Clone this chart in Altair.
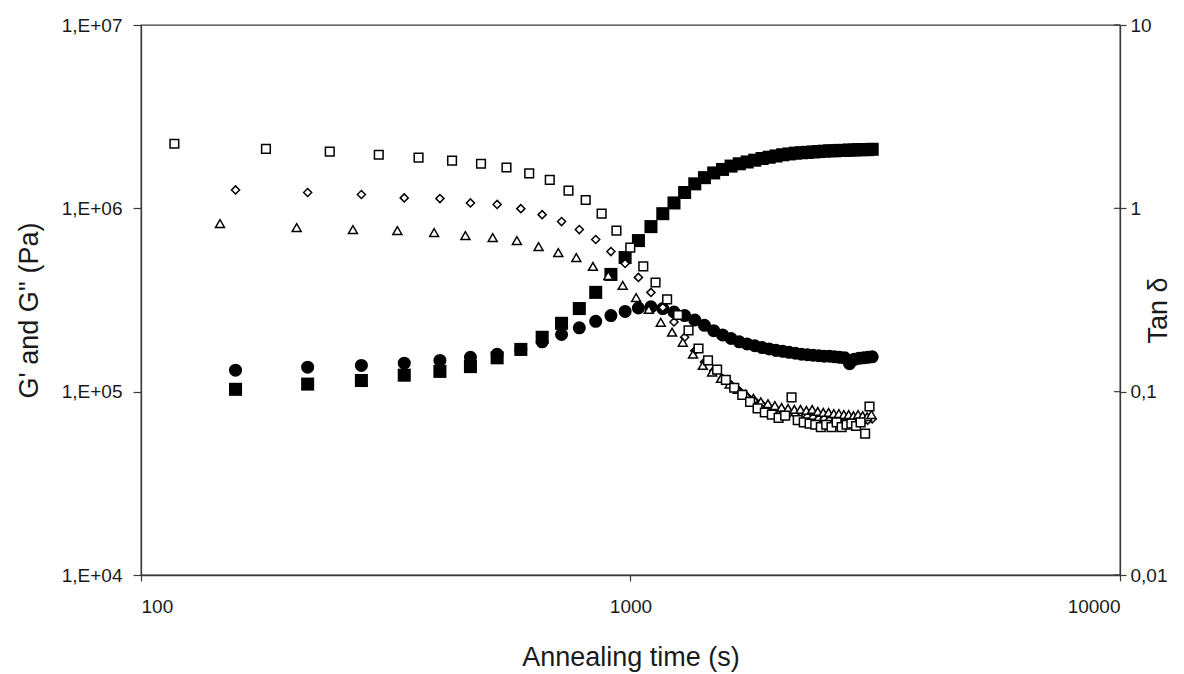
import altair as alt
import pandas as pd

# ---------------- data ----------------
# G' and G'' (left axis, Pa) and the diamond tan delta series share these times (s)
t_g = [156, 219, 282, 345, 408, 471, 534, 597, 660, 723,
       786, 849, 912, 975, 1038, 1101, 1164, 1227, 1290, 1353,
       1416, 1479, 1542, 1605, 1668, 1731, 1794, 1857, 1920, 1983,
       2046, 2109, 2172, 2235, 2298, 2361, 2424, 2487, 2550, 2613,
       2676, 2739, 2802, 2865, 2928, 2991, 3054, 3117]

g_storage = [1.03e5, 1.10e5, 1.15e5, 1.23e5, 1.29e5, 1.37e5, 1.53e5, 1.70e5, 1.98e5, 2.36e5,
             2.84e5, 3.48e5, 4.36e5, 5.39e5, 6.67e5, 7.95e5, 9.35e5, 1.07e6, 1.22e6, 1.36e6,
             1.47e6, 1.56e6, 1.63e6, 1.70e6, 1.75e6, 1.79e6, 1.83e6, 1.87e6, 1.90e6, 1.93e6,
             1.96e6, 1.98e6, 2.00e6, 2.01e6, 2.02e6, 2.03e6, 2.04e6, 2.05e6, 2.06e6, 2.06e6,
             2.07e6, 2.07e6, 2.08e6, 2.08e6, 2.09e6, 2.09e6, 2.09e6, 2.10e6]

g_loss = [1.31e5, 1.36e5, 1.39e5, 1.43e5, 1.48e5, 1.54e5, 1.60e5, 1.70e5, 1.87e5, 2.05e5,
          2.23e5, 2.42e5, 2.60e5, 2.74e5, 2.86e5, 2.90e5, 2.84e5, 2.72e5, 2.60e5, 2.46e5,
          2.30e5, 2.15e5, 2.04e5, 1.95e5, 1.87e5, 1.82e5, 1.78e5, 1.74e5, 1.71e5, 1.68e5,
          1.66e5, 1.64e5, 1.62e5, 1.60e5, 1.59e5, 1.58e5, 1.57e5, 1.56e5, 1.56e5, 1.55e5,
          1.54e5, 1.53e5, 1.42e5, 1.50e5, 1.52e5, 1.53e5, 1.54e5, 1.55e5]

tan_diamond = [1.26, 1.22, 1.19, 1.14, 1.13, 1.07, 1.05, 0.996, 0.924, 0.847,
               0.766, 0.676, 0.581, 0.500, 0.420, 0.348, 0.288, 0.240, 0.198, 0.167,
               0.145, 0.130, 0.118, 0.109, 0.101, 0.094, 0.089, 0.085, 0.082, 0.080,
               0.078, 0.076, 0.075, 0.074, 0.073, 0.072, 0.071, 0.071, 0.070, 0.069,
               0.069, 0.068, 0.068, 0.068, 0.069, 0.069, 0.070, 0.071]

t_triangle = [145, 208, 271, 334, 397, 460, 523, 586, 649, 712,
              775, 838, 901, 964, 1027, 1090, 1153, 1216, 1279, 1342,
              1405, 1468, 1531, 1594, 1657, 1720, 1783, 1846, 1909, 1972,
              2035, 2098, 2161, 2224, 2287, 2350, 2413, 2476, 2539, 2602,
              2665, 2728, 2791, 2854, 2917, 2980, 3043, 3106]

tan_triangle = [0.826, 0.785, 0.766, 0.756, 0.738, 0.710, 0.693, 0.667, 0.619, 0.574,
                0.539, 0.482, 0.430, 0.380, 0.326, 0.281, 0.239, 0.211, 0.186, 0.160,
                0.139, 0.128, 0.118, 0.110, 0.103, 0.097, 0.092, 0.088, 0.086, 0.084,
                0.082, 0.081, 0.080, 0.080, 0.079, 0.080, 0.078, 0.077, 0.077, 0.076,
                0.076, 0.075, 0.075, 0.074, 0.075, 0.074, 0.073, 0.075]

t_square = [117, 180, 243, 306, 369, 432, 495, 558, 621, 684,
            747, 810, 873, 936, 999, 1062, 1125, 1188, 1251, 1314,
            1377, 1440, 1503, 1566, 1629, 1692, 1755, 1818, 1881, 1944,
            2007, 2070, 2133, 2196, 2259, 2322, 2385, 2448, 2511, 2574,
            2637, 2700, 2763, 2826, 2889, 2952, 3015, 3078]

tan_square = [2.25, 2.11, 2.04, 1.96, 1.89, 1.82, 1.75, 1.67, 1.55, 1.43,
              1.25, 1.11, 0.935, 0.756, 0.611, 0.482, 0.394, 0.319, 0.262, 0.216,
              0.172, 0.148, 0.132, 0.116, 0.105, 0.096, 0.088, 0.081, 0.077, 0.075,
              0.072, 0.074, 0.093, 0.070, 0.068, 0.067, 0.066, 0.064, 0.066, 0.064,
              0.068, 0.064, 0.066, 0.067, 0.065, 0.068, 0.059, 0.083]

x_ticks = [100, 1000, 10000]
x_tick_labels = ["100", "1000", "10000"]
left_ticks = [1e4, 1e5, 1e6, 1e7]
left_tick_labels = ["1,E+04", "1,E+05", "1,E+06", "1,E+07"]
right_ticks = [0.01, 0.1, 1, 10]
right_tick_labels = ["0,01", "0,1", "1", "10"]


def label_expr(values, labels):
    expr = "''"
    for v, lab in zip(values, labels):
        tol = abs(v) * 1e-6
        expr = f"(abs(datum.value - {v}) <= {tol}) ? '{lab}' : ({expr})"
    return expr


FONT = "Liberation Sans"
W, H = 979, 550
AXIS_COLOR = "#3a3a3a"

df_gs = pd.DataFrame({"t": t_g, "v": g_storage})
df_gl = pd.DataFrame({"t": t_g, "v": g_loss})
df_dia = pd.DataFrame({"t": t_g, "v": tan_diamond})
df_tri = pd.DataFrame({"t": t_triangle, "v": tan_triangle})
df_sq = pd.DataFrame({"t": t_square, "v": tan_square})
df_rticks = pd.DataFrame({"v": right_ticks})

x_enc = alt.X(
    "t:Q",
    scale=alt.Scale(type="log", domain=[100, 10000], nice=False),
    axis=alt.Axis(
        values=x_ticks,
        labelExpr=label_expr(x_ticks, x_tick_labels),
        title="Annealing time (s)",
        tickSize=6,
        labelPadding=16,
        titleY=82,
        titleX=W / 2,
        titleBaseline="middle",
        titleAlign="center",
    ),
)

y_left = alt.Y(
    "v:Q",
    scale=alt.Scale(type="log", domain=[1e4, 1e7], nice=False),
    axis=alt.Axis(
        orient="left",
        values=left_ticks,
        labelExpr=label_expr(left_ticks, left_tick_labels),
        title="G' and G'' (Pa)",
        tickSize=8,
        labelPadding=11,
        titleAngle=270,
        titleX=-112,
        titleY=H / 2 + 10,
        titleAlign="center",
        titleBaseline="middle",
    ),
)

y_right = alt.Y(
    "v:Q",
    scale=alt.Scale(type="log", domain=[0.01, 10], nice=False),
    axis=alt.Axis(
        orient="right",
        values=right_ticks,
        labelExpr=label_expr(right_ticks, right_tick_labels),
        title="Tan δ",
        tickSize=6,
        labelPadding=4,
        titleAngle=270,
        titleX=38,
        titleY=H / 2 + 10,
        titleAlign="center",
        titleBaseline="middle",
    ),
)

gs = alt.Chart(df_gs).mark_point(shape="square", filled=True, color="black", size=170, opacity=1).encode(x=x_enc, y=y_left)
gl = alt.Chart(df_gl).mark_point(shape="circle", filled=True, color="black", size=170, opacity=1).encode(x=x_enc, y=y_left)

open_style = dict(fill="white", stroke="black", strokeWidth=1.5, opacity=1, fillOpacity=1)
sq = alt.Chart(df_sq).mark_point(shape="square", size=75, **open_style).encode(x=x_enc, y=y_right)
tri = alt.Chart(df_tri).mark_point(shape="triangle-up", size=80, **open_style).encode(x=x_enc, y=y_right)
dia = alt.Chart(df_dia).mark_point(shape="diamond", size=65, **open_style).encode(x=x_enc, y=y_right)

# inner half of the cross-shaped ticks on the right axis
rticks = alt.Chart(df_rticks).mark_rule(color=AXIS_COLOR, strokeWidth=1.2).encode(
    x=alt.value(W - 6), x2=alt.value(W), y=y_right
)

left = alt.layer(gs, gl)
right = alt.layer(rticks, dia, tri, sq)

chart = (
    alt.layer(left, right)
    .resolve_scale(y="independent")
    .properties(
        width=W,
        height=H,
        autosize=alt.AutoSizeParams(type="none"),
        padding={"left": 133, "top": 17, "right": 56, "bottom": 97},
        background="white",
    )
    .configure_view(stroke=AXIS_COLOR, strokeWidth=1.3)
    .configure_axis(
        grid=False,
        domainColor=AXIS_COLOR,
        domainWidth=1.3,
        tickColor=AXIS_COLOR,
        tickWidth=1.2,
        labelColor="#1a1a1a",
        titleColor="#1a1a1a",
        labelFont=FONT,
        titleFont=FONT,
        labelFontSize=19,
        titleFontSize=27,
        titleFontWeight="normal",
    )
)

chart.save("out.html", embed_options={"renderer": "svg", "actions": False})
